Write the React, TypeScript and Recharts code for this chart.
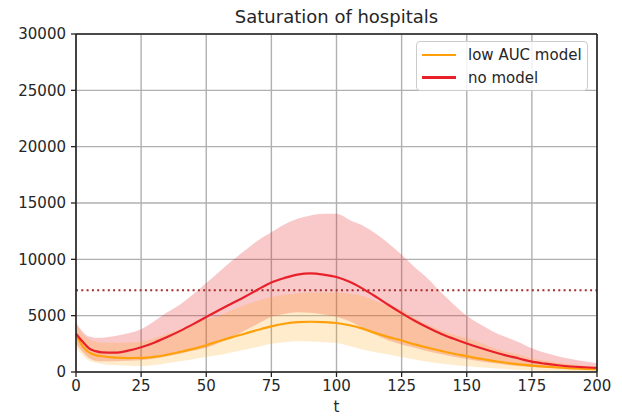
import { ComposedChart, Area, Line, XAxis, YAxis, CartesianGrid, ReferenceLine } from 'recharts';

const t = [0, 2.5, 5, 7.5, 10, 15, 20, 25, 30, 35, 40, 45, 50, 55, 60, 65, 70, 75, 80, 85, 90, 95, 100,
  105, 110, 115, 120, 125, 130, 135, 140, 145, 150, 155, 160, 165, 170, 175, 180, 185, 190, 195, 200];

// mean curves
const noModel = [3400, 2700, 2100, 1850, 1740, 1720, 1900, 2200, 2600, 3100, 3650, 4250, 4880, 5500, 6100, 6700, 7350,
  7950, 8350, 8650, 8750, 8650, 8430, 8000, 7400, 6700, 5950, 5230, 4550, 3950, 3400, 2950, 2530, 2150, 1800, 1480,
  1200, 920, 740, 600, 490, 420, 360];
const lowAuc = [3300, 2300, 1750, 1500, 1400, 1280, 1240, 1250, 1350, 1530, 1780, 2050, 2380, 2750, 3100, 3420, 3750,
  4050, 4280, 4420, 4460, 4430, 4350, 4150, 3850, 3450, 3100, 2800, 2450, 2150, 1880, 1620, 1400, 1180, 990, 820,
  670, 560, 470, 400, 330, 280, 240];

// bands
const noModelHi = [4400, 3600, 3150, 3050, 3050, 3200, 3430, 3800, 4500, 5300, 6000, 6900, 7900, 8900, 9900, 10800,
  11700, 12400, 13100, 13600, 13900, 14050, 14050, 13500, 13000, 12300, 11400, 10400, 9300, 8300, 7100, 6000, 5000,
  4250, 3600, 3100, 2650, 2100, 1700, 1400, 1150, 950, 780];
const noModelLo = [2500, 1800, 1250, 1000, 950, 950, 1000, 1040, 1200, 1400, 1650, 1900, 2150, 2600, 3100, 3700, 4300,
  4900, 5150, 5300, 5250, 5100, 4900, 4500, 3900, 3300, 2800, 2450, 2150, 1850, 1600, 1350, 1150, 950, 800, 650, 530,
  450, 380, 320, 270, 230, 200];
const lowAucHi = [4300, 3400, 2900, 2700, 2600, 2600, 2620, 2680, 3000, 3400, 3800, 4300, 4700, 5000, 5500, 5950, 6350,
  6650, 6850, 7000, 7050, 7050, 7050, 6950, 6750, 6300, 5900, 5500, 4800, 4200, 3700, 3300, 3000, 2600, 2150, 1800,
  1550, 1200, 1000, 820, 680, 550, 450];
const lowAucLo = [2200, 1500, 1000, 850, 720, 620, 560, 530, 620, 780, 950, 1130, 1330, 1500, 1750, 2000, 2250, 2500,
  2650, 2720, 2700, 2640, 2580, 2300, 2000, 1750, 1550, 1340, 1100, 900, 750, 620, 510, 420, 340, 260, 180, 150, 120,
  100, 80, 70, 60];

const capacity = 7250;
const xTicks = [0, 25, 50, 75, 100, 125, 150, 175, 200];
const yTicks = [0, 5000, 10000, 15000, 20000, 25000, 30000];

const RED = '#e8202a';
const ORANGE = '#ffa00a';
const FONT = '"DejaVu Sans", sans-serif';

const data = t.map((x, i) => ({
  t: x,
  noModel: noModel[i],
  lowAuc: lowAuc[i],
  noModelBand: [noModelLo[i], noModelHi[i]],
  lowAucBand: [lowAucLo[i], lowAucHi[i]],
}));

const tickStyle = { fontSize: 15, fontFamily: FONT, fill: '#262626' };

export default function App() {
  return (
    <div style={{ position: 'absolute', left: 0, top: 0, width: 622, height: 418, background: '#fff', fontFamily: FONT }}>
      <div style={{ position: 'absolute', left: 76, width: 521, top: 6, textAlign: 'center', fontSize: 18, color: '#262626' }}>
        Saturation of hospitals
      </div>
      <ComposedChart width={622} height={418} data={data} margin={{ top: 34, right: 25, bottom: 0, left: 0 }}>
        <CartesianGrid stroke="#b0b0b0" strokeWidth={1.4} />
        <XAxis
          dataKey="t"
          type="number"
          domain={[0, 200]}
          ticks={xTicks}
          tick={tickStyle}
          tickSize={5}
          tickMargin={3}
          axisLine={{ stroke: '#222', strokeWidth: 1.6 }}
          tickLine={{ stroke: '#222', strokeWidth: 1.3 }}
          height={46}
          label={{ value: 't', position: 'insideBottom', offset: 6, style: tickStyle }}
        />
        <YAxis
          type="number"
          domain={[0, 30000]}
          ticks={yTicks}
          tick={tickStyle}
          tickSize={5}
          tickMargin={5}
          axisLine={{ stroke: '#222', strokeWidth: 1.6 }}
          tickLine={{ stroke: '#222', strokeWidth: 1.3 }}
          width={76}
          interval={0}
        />
        <Area
          dataKey="noModelBand"
          type="monotone"
          stroke="none"
          fill="#e41a1c"
          fillOpacity={0.24}
          isAnimationActive={false}
          activeDot={false}
        />
        <Area
          dataKey="lowAucBand"
          type="monotone"
          stroke="none"
          fill="#ffa000"
          fillOpacity={0.2}
          isAnimationActive={false}
          activeDot={false}
        />
        <ReferenceLine y={capacity} stroke="#a52a2a" strokeWidth={2} strokeDasharray="2 3.3" />
        <Line dataKey="lowAuc" type="monotone" stroke={ORANGE} strokeWidth={2.2} dot={false} isAnimationActive={false} />
        <Line dataKey="noModel" type="monotone" stroke={RED} strokeWidth={2.2} dot={false} isAnimationActive={false} />
        {/* top and right spines */}
        <ReferenceLine y={30000} stroke="#222" strokeWidth={1.6} />
        <ReferenceLine x={200} stroke="#222" strokeWidth={1.6} />
      </ComposedChart>
      <div
        style={{
          position: 'absolute', left: 416, top: 41, width: 172, height: 50, boxSizing: 'border-box',
          border: '1px solid #cccccc', borderRadius: 4, background: 'rgba(255,255,255,0.85)',
          fontSize: 15, color: '#262626',
        }}
      >
        {[{ name: 'low AUC model', color: ORANGE }, { name: 'no model', color: RED }].map((e, i) => (
          <div key={e.name} style={{ position: 'absolute', left: 5, top: 3 + i * 22.5, height: 20, display: 'flex', alignItems: 'center' }}>
            <span style={{ display: 'inline-block', width: 34, height: 2.4, background: e.color, marginRight: 12 }} />
            <span>{e.name}</span>
          </div>
        ))}
      </div>
    </div>
  );
}
